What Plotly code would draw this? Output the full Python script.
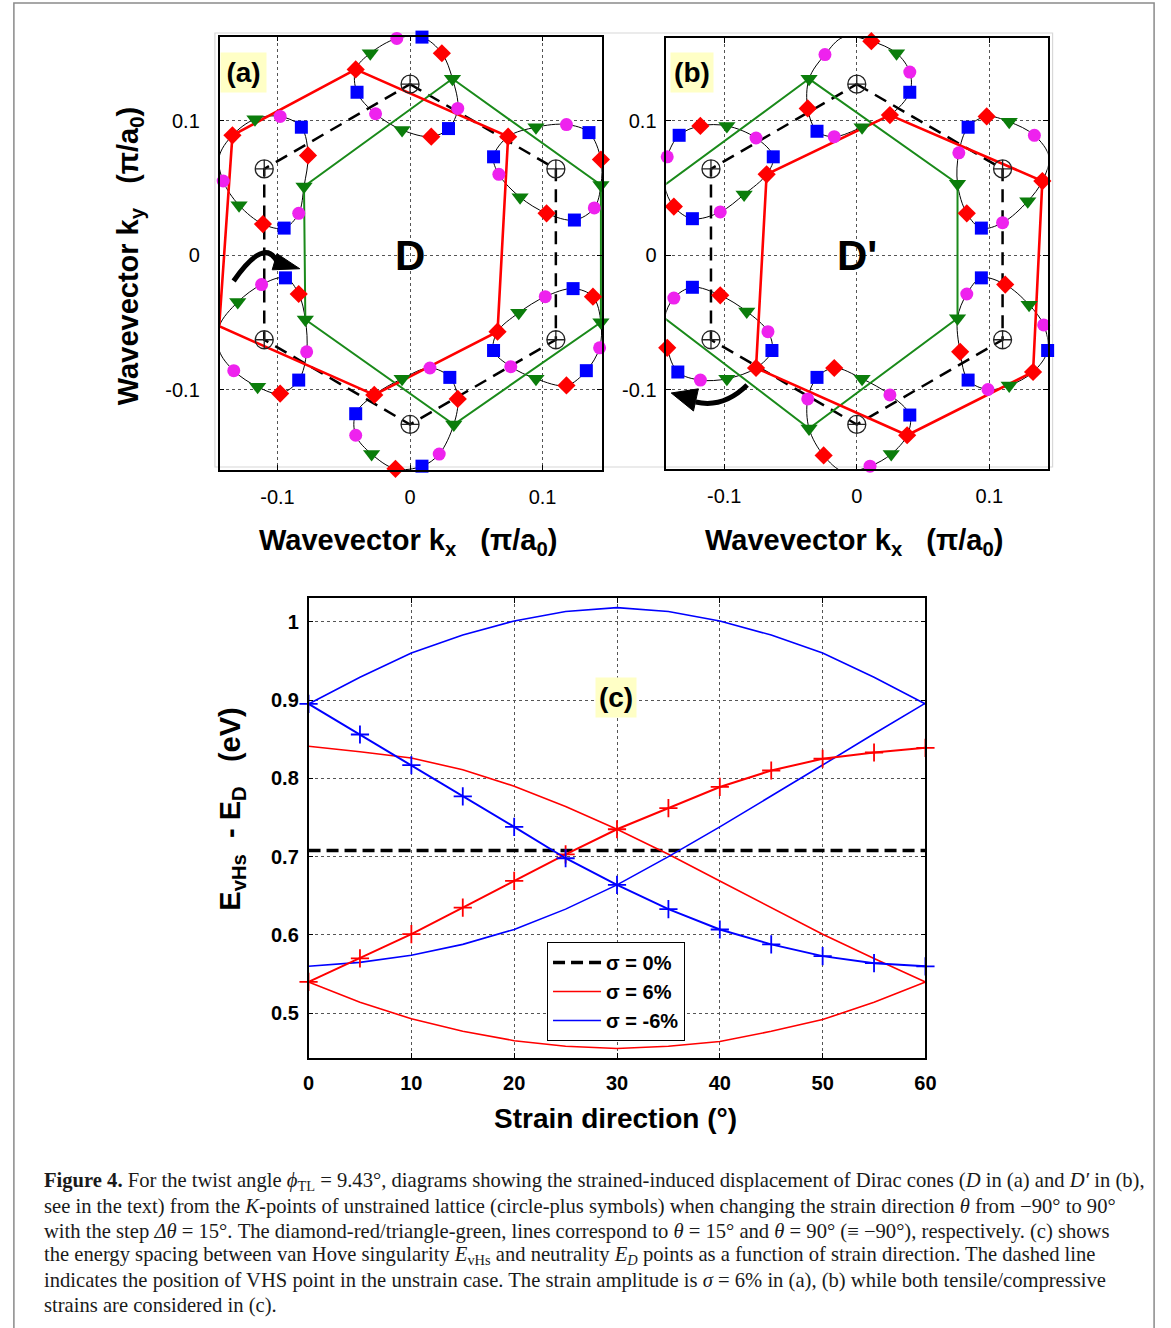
import plotly.graph_objects as go

W, H = 1171, 1328

# ---------------- data: panels (a) and (b) ----------------
# unstrained K points (circle-plus symbols)
K_POINTS = [(0.000, 0.127), (0.110, 0.064), (0.110, -0.063),
            (0.000, -0.126), (-0.110, -0.063), (-0.110, 0.064)]

# Dirac-point loops, theta = -90..75 deg (step 15), index 0 = theta 90 (triangle), index 7 = theta 15 (diamond)
A_TOP = [(0.032, 0.131), (0.036, 0.109), (0.029, 0.094), (0.016, 0.088), (-0.006, 0.093), (-0.026, 0.105),
         (-0.040, 0.121), (-0.041, 0.138), (-0.030, 0.150), (-0.010, 0.161), (0.009, 0.162), (0.024, 0.150)]
A_UR = [(0.144, 0.052), (0.139, 0.035), (0.124, 0.026), (0.103, 0.031), (0.083, 0.043), (0.067, 0.060),
        (0.063, 0.073), (0.074, 0.088), (0.095, 0.095), (0.118, 0.097), (0.135, 0.091), (0.144, 0.071)]
A_LR = [(0.144, -0.050), (0.143, -0.069), (0.133, -0.086), (0.118, -0.097), (0.095, -0.092), (0.076, -0.083),
        (0.063, -0.071), (0.066, -0.057), (0.082, -0.043), (0.102, -0.031), (0.123, -0.025), (0.138, -0.031)]
A_BOT = [(0.033, -0.126), (0.022, -0.148), (0.009, -0.157), (-0.011, -0.159), (-0.029, -0.148), (-0.041, -0.134),
         (-0.041, -0.118), (-0.027, -0.104), (-0.006, -0.092), (0.015, -0.084), (0.030, -0.091), (0.036, -0.107)]
A_LL = [(-0.079, -0.048), (-0.078, -0.072), (-0.084, -0.093), (-0.098, -0.103), (-0.115, -0.098), (-0.133, -0.086),
        (-0.144, -0.071), (-0.144, -0.053), (-0.130, -0.035), (-0.112, -0.022), (-0.094, -0.017), (-0.084, -0.029)]
A_UL = [(-0.080, 0.051), (-0.084, 0.031), (-0.095, 0.020), (-0.111, 0.023), (-0.129, 0.037), (-0.141, 0.055),
        (-0.144, 0.073), (-0.134, 0.089), (-0.117, 0.101), (-0.098, 0.103), (-0.082, 0.095), (-0.077, 0.074)]

B_TOP = [(-0.036, 0.131), (-0.024, 0.149), (-0.010, 0.162), (0.011, 0.159), (0.030, 0.150), (0.040, 0.136),
         (0.040, 0.121), (0.025, 0.104), (0.004, 0.095), (-0.017, 0.088), (-0.030, 0.092), (-0.037, 0.109)]
B_UR = [(0.076, 0.053), (0.077, 0.076), (0.084, 0.095), (0.098, 0.103), (0.115, 0.099), (0.134, 0.089),
        (0.145, 0.073), (0.140, 0.055), (0.129, 0.040), (0.110, 0.024), (0.094, 0.020), (0.083, 0.031)]
B_LR = [(0.076, -0.047), (0.083, -0.029), (0.094, -0.017), (0.112, -0.022), (0.130, -0.037), (0.141, -0.052),
        (0.144, -0.071), (0.133, -0.087), (0.115, -0.097), (0.099, -0.100), (0.084, -0.093), (0.078, -0.072)]
B_BOT = [(-0.036, -0.129), (-0.037, -0.107), (-0.030, -0.091), (-0.017, -0.084), (0.004, -0.092), (0.025, -0.104),
         (0.040, -0.119), (0.038, -0.134), (0.026, -0.148), (0.010, -0.157), (-0.010, -0.161), (-0.025, -0.149)]
B_LL = [(-0.145, -0.047), (-0.138, -0.032), (-0.124, -0.024), (-0.103, -0.030), (-0.083, -0.042), (-0.067, -0.057),
        (-0.064, -0.071), (-0.076, -0.084), (-0.098, -0.092), (-0.118, -0.093), (-0.135, -0.087), (-0.143, -0.069)]
B_UL = [(-0.145, 0.052), (-0.143, 0.073), (-0.134, 0.089), (-0.118, 0.096), (-0.098, 0.096), (-0.076, 0.087),
        (-0.063, 0.073), (-0.068, 0.060), (-0.085, 0.045), (-0.103, 0.032), (-0.124, 0.027), (-0.138, 0.036)]

# curved arrows (start, control, end) and arrow heads
ARROW_A_PATH = [(-0.1331, -0.0193), (-0.1097, 0.0138), (-0.1003, -0.0052)]
ARROW_A_HEAD = [(-0.1004, 0.0010), (-0.0832, -0.0102), (-0.1040, -0.0110)]
ARROW_B_PATH = [(-0.0827, -0.0967), (-0.1006, -0.1141), (-0.1215, -0.1093)]
ARROW_B_HEAD = [(-0.1400, -0.1026), (-0.1195, -0.0995), (-0.1232, -0.1160)]

# ---------------- data: panel (c) ----------------
THETA = [0, 5, 10, 15, 20, 25, 30, 35, 40, 45, 50, 55, 60]
REF_X = [0, 60]
REF_Y = [0.708, 0.708]
RED_PLUS = [0.540, 0.570, 0.601, 0.635, 0.669, 0.703, 0.735, 0.762, 0.789, 0.810, 0.825, 0.833, 0.839]
RED_DESC = [0.841, 0.834, 0.826, 0.811, 0.790, 0.764, 0.735, 0.703, 0.669, 0.635, 0.601, 0.570, 0.540]
RED_LOW = [0.540, 0.514, 0.493, 0.477, 0.465, 0.458, 0.455, 0.458, 0.464, 0.477, 0.492, 0.514, 0.540]
BLUE_UP = [0.895, 0.929, 0.960, 0.983, 1.001, 1.013, 1.018, 1.013, 1.001, 0.983, 0.960, 0.929, 0.895]
BLUE_PLUS = [0.895, 0.856, 0.817, 0.777, 0.738, 0.698, 0.664, 0.633, 0.607, 0.588, 0.573, 0.564, 0.560]
BLUE_ASC = [0.560, 0.565, 0.574, 0.588, 0.607, 0.633, 0.664, 0.700, 0.738, 0.777, 0.817, 0.857, 0.896]

# ---------------- styles ----------------
SANS = "Liberation Sans"
SERIF = "Liberation Serif"
SYMBOLS = ["triangle-down", "circle", "square", "diamond"]
MCOLORS = ["#0b7d0b", "#ee22ee", "#0000ff", "#ff0000"]
MSIZES = [15, 13, 13, 14]
GREEN = "#1a8a1a"
RED = "#ff0000"

fig = go.Figure()


def add_panel(loops, xa, ya):
    # thin loop curves
    for lp in loops:
        xs = [p[0] for p in lp] + [lp[0][0]]
        ys = [p[1] for p in lp] + [lp[0][1]]
        fig.add_trace(go.Scatter(x=xs, y=ys, mode="lines", line=dict(color="black", width=1, shape="spline"),
                                 xaxis=xa, yaxis=ya, showlegend=False, hoverinfo="skip", cliponaxis=False))
    # dashed K hexagon
    fig.add_trace(go.Scatter(x=[p[0] for p in K_POINTS] + [K_POINTS[0][0]],
                             y=[p[1] for p in K_POINTS] + [K_POINTS[0][1]],
                             mode="lines", line=dict(color="black", width=2.5, dash="13px,8px"),
                             xaxis=xa, yaxis=ya, showlegend=False, cliponaxis=False))
    # green (theta = 90) and red (theta = 15) hexagons
    g = [lp[0] for lp in loops] + [loops[0][0]]
    r = [lp[7] for lp in loops] + [loops[0][7]]
    fig.add_trace(go.Scatter(x=[p[0] for p in g], y=[p[1] for p in g], mode="lines",
                             line=dict(color=GREEN, width=2), xaxis=xa, yaxis=ya,
                             showlegend=False, cliponaxis=False))
    fig.add_trace(go.Scatter(x=[p[0] for p in r], y=[p[1] for p in r], mode="lines",
                             line=dict(color=RED, width=2.6), xaxis=xa, yaxis=ya,
                             showlegend=False, cliponaxis=False))
    # markers
    for t in range(4):
        pts = [lp[i] for lp in loops for i in range(12) if i % 4 == t]
        fig.add_trace(go.Scatter(x=[p[0] for p in pts], y=[p[1] for p in pts], mode="markers",
                                 marker=dict(symbol=SYMBOLS[t], color=MCOLORS[t], size=MSIZES[t],
                                             line=dict(width=0)),
                                 xaxis=xa, yaxis=ya, showlegend=False, cliponaxis=False))
    fig.add_trace(go.Scatter(x=[p[0] for p in K_POINTS], y=[p[1] for p in K_POINTS], mode="markers",
                             marker=dict(symbol="circle-cross-open", size=18, color="#222",
                                         line=dict(width=1.3)),
                             xaxis=xa, yaxis=ya, showlegend=False, cliponaxis=False))


add_panel([A_TOP, A_UR, A_LR, A_BOT, A_LL, A_UL], "x", "y")
add_panel([B_TOP, B_UR, B_LR, B_BOT, B_LL, B_UL], "x2", "y2")

# panel (c)
fig.add_trace(go.Scatter(x=REF_X, y=REF_Y, mode="lines", name="σ = 0%",
                         line=dict(color="black", width=3.5, dash="12px,6px"),
                         xaxis="x3", yaxis="y3", legendrank=1))
fig.add_trace(go.Scatter(x=THETA, y=RED_LOW, mode="lines", name="σ = 6%",
                         line=dict(color=RED, width=1.6), xaxis="x3", yaxis="y3", legendrank=2))
fig.add_trace(go.Scatter(x=THETA, y=RED_DESC, mode="lines", showlegend=False,
                         line=dict(color=RED, width=1.6), xaxis="x3", yaxis="y3"))
fig.add_trace(go.Scatter(x=THETA, y=BLUE_UP, mode="lines", name="σ = -6%",
                         line=dict(color="#0000ff", width=1.6), xaxis="x3", yaxis="y3", legendrank=3))
fig.add_trace(go.Scatter(x=THETA, y=BLUE_ASC, mode="lines", showlegend=False,
                         line=dict(color="#0000ff", width=1.6), xaxis="x3", yaxis="y3"))
fig.add_trace(go.Scatter(x=THETA, y=RED_PLUS, mode="lines+markers", showlegend=False,
                         line=dict(color=RED, width=2),
                         marker=dict(symbol="cross-thin", size=13, line=dict(color=RED, width=1.8)),
                         xaxis="x3", yaxis="y3", cliponaxis=False))
fig.add_trace(go.Scatter(x=THETA, y=BLUE_PLUS, mode="lines+markers", showlegend=False,
                         line=dict(color="#0000ff", width=2),
                         marker=dict(symbol="cross-thin", size=13, line=dict(color="#0000ff", width=1.8)),
                         xaxis="x3", yaxis="y3", cliponaxis=False))


def px(x):
    return x / W


def py(y):
    return 1 - y / H


common = dict(showline=True, linecolor="black", linewidth=1.5, mirror="ticks", ticks="inside",
              ticklen=5, tickcolor="black", tickwidth=1, showgrid=True, gridcolor="#555",
              griddash="dot", gridwidth=1, zeroline=False, fixedrange=True)
kfont = dict(family=SANS, size=20, color="black")
cfont = dict(family=SANS, size=20, color="black", weight="bold")

fig.update_layout(
    width=W, height=H, autosize=False, margin=dict(l=0, r=0, t=0, b=0),
    paper_bgcolor="white", plot_bgcolor="white",
    xaxis=dict(domain=[px(216.7), px(605)], range=[-0.14372, 0.14498], anchor="y",
               tickvals=[-0.1, 0, 0.1], ticktext=["-0.1", "0", "0.1"], tickfont=kfont,
               ticklabelstandoff=8, **common),
    yaxis=dict(domain=[py(470), py(36.7)], range=[-0.15985, 0.16230], anchor="x",
               tickvals=[-0.1, 0, 0.1], ticktext=["-0.1", "0", "0.1"], tickfont=kfont,
               ticklabelstandoff=14, **common),
    xaxis2=dict(domain=[px(670), px(1057)], range=[-0.14372, 0.14401], anchor="y2",
                tickvals=[-0.1, 0, 0.1], ticktext=["-0.1", "0", "0.1"], tickfont=kfont,
                ticklabelstandoff=8, **common),
    yaxis2=dict(domain=[py(469), py(38)], range=[-0.15911, 0.16134], anchor="x2",
                tickvals=[-0.1, 0, 0.1], ticktext=["-0.1", "0", "0.1"], tickfont=kfont,
                ticklabelstandoff=4, **common),
    xaxis3=dict(domain=[px(307), px(933)], range=[0, 60], anchor="y3",
                tickvals=THETA[::2], ticktext=[str(v) for v in THETA[::2]], tickfont=cfont,
                ticklabelstandoff=6, **common),
    yaxis3=dict(domain=[py(1058), py(598)], range=[0.4429, 1.0303], anchor="x3",
                tickvals=[0.5, 0.6, 0.7, 0.8, 0.9, 1.0], ticktext=["0.5", "0.6", "0.7", "0.8", "0.9", "1"],
                tickfont=cfont, ticklabelstandoff=4, **common),
    legend=dict(x=px(549), y=py(942), xanchor="left", yanchor="top", bgcolor="white",
                bordercolor="black", borderwidth=1, font=dict(family=SANS, size=20, color="black", weight="bold"),
                tracegroupgap=0, itemwidth=48),
    showlegend=True,
)

shapes = []
# outer frame
shapes.append(dict(type="rect", xref="paper", yref="paper", x0=px(8), x1=px(1165), y0=-0.02, y1=py(3),
                   line=dict(color="#8a8a8a", width=1.5), layer="below"))
# faint frame of the panel image
shapes.append(dict(type="rect", xref="paper", yref="paper", x0=px(212), x1=px(1062), y0=py(467), y1=py(33),
                   line=dict(color="#d8d8d8", width=1.2), layer="below"))


def arrow(path, head, xr, yr):
    (x0, y0), (cx, cy), (x1, y1) = path
    shapes.append(dict(type="path", xref=xr, yref=yr,
                       path=f"M {x0},{y0} Q {cx},{cy} {x1},{y1}",
                       line=dict(color="black", width=5)))
    (a0, b0), (a1, b1), (a2, b2) = head
    shapes.append(dict(type="path", xref=xr, yref=yr,
                       path=f"M {a0},{b0} L {a1},{b1} L {a2},{b2} Z",
                       fillcolor="black", line=dict(color="black", width=1)))


arrow(ARROW_A_PATH, ARROW_A_HEAD, "x", "y")
arrow(ARROW_B_PATH, ARROW_B_HEAD, "x2", "y2")
fig.update_layout(shapes=shapes)

ann = []
big = dict(family=SANS, size=28, color="black", weight="bold")
title_font = dict(family=SANS, size=29, color="black", weight="bold")


def note(text, x, y, font, **kw):
    d = dict(text=text, x=px(x), y=py(y), xref="paper", yref="paper", showarrow=False,
             xanchor="center", yanchor="middle", font=font)
    d.update(kw)
    ann.append(d)


# panel labels with yellow boxes
for txt, cx, cy, w in [("(a)", 240.5, 72.5, 45), ("(b)", 696, 72.5, 42), ("(c)", 619, 697, 40)]:
    note(txt, cx, cy, big, bgcolor="#ffffc6", borderpad=0, width=w, height=39)
ann.append(dict(text="D", x=0, y=0, xref="x", yref="y", showarrow=False, xanchor="center", yanchor="middle",
                font=dict(family=SANS, size=42, color="black", weight="bold")))
ann.append(dict(text="D'", x=0, y=0, xref="x2", yref="y2", showarrow=False, xanchor="center", yanchor="middle",
                font=dict(family=SANS, size=42, color="black", weight="bold")))
# axis titles (extra spaces mimic the original TeX spacing)
KX = "Wavevector k<sub>x</sub>&nbsp;&nbsp;&nbsp;(π/a<sub>0</sub>)"
KY = "Wavevector k<sub>y</sub>&nbsp;&nbsp;&nbsp;(π/a<sub>0</sub>)"
note(KX, 408, 542, title_font)
note(KX, 860, 542, title_font)
note(KY, 126, 256, title_font, textangle=-90)
note("Strain direction (°)", 618, 1118, big)
note("E<sub>vHs</sub>&nbsp;&nbsp;-&nbsp;E<sub>D</sub>&nbsp;&nbsp;&nbsp;(eV)", 229, 809, title_font, textangle=-90)

# caption
CAPTION = [
    "<b>Figure 4.</b> For the twist angle <i>ϕ</i><sub>TL</sub> = 9.43°, diagrams showing the strained-induced "
    "displacement of Dirac cones (<i>D</i> in (a) and <i>D′</i> in (b),",
    "see in the text) from the <i>K</i>-points of unstrained lattice (circle-plus symbols) when changing the "
    "strain direction <i>θ</i> from −90° to 90°",
    "with the step <i>Δθ</i> = 15°. The diamond-red/triangle-green, lines correspond to <i>θ</i> = 15° and "
    "<i>θ</i> = 90° (≡ −90°), respectively. (c) shows",
    "the energy spacing between van Hove singularity <i>E</i><sub>vHs</sub> and neutrality "
    "<i>E<sub>D</sub></i> points as a function of strain direction. The dashed line",
    "indicates the position of VHS point in the unstrain case. The strain amplitude is <i>σ</i> = 6% in (a), "
    "(b) while both tensile/compressive",
    "strains are considered in (c).",
]
for i, line in enumerate(CAPTION):
    ann.append(dict(text=line, x=px(37), y=py(1181.5 + 24.8 * i), xref="paper", yref="paper",
                    xanchor="left", yanchor="middle", showarrow=False,
                    font=dict(family=SERIF, size=20.6, color="#1a1a1a")))

fig.update_layout(annotations=ann)
fig.write_html("out.html")
